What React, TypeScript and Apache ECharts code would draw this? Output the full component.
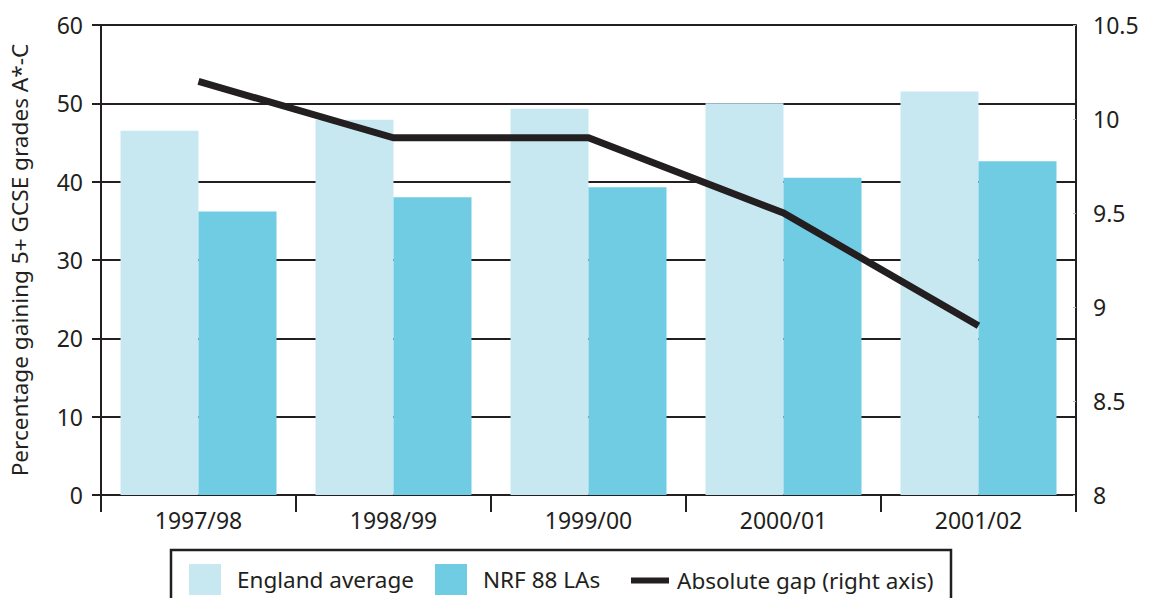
import React, { useEffect, useRef } from "react";
import * as echarts from "echarts";

const categories = ["1997/98", "1998/99", "1999/00", "2000/01", "2001/02"];
const englandAverage = [46.5, 47.9, 49.3, 50.0, 51.5];
const nrfLAs = [36.2, 38.0, 39.3, 40.5, 42.6];
const absoluteGap = [10.2, 9.9, 9.9, 9.5, 8.9];

const seriesNames = ["England average", "NRF 88 LAs", "Absolute gap (right axis)"];
const INK = "#231f20";
const LIGHT = "#c7e8f1";
const DARK = "#70cce3";
const FONT = "Noto Sans";

export default function App() {
  const ref = useRef<HTMLDivElement>(null);
  useEffect(() => {
    if (!ref.current) return;
    const chart = echarts.init(ref.current, undefined, { renderer: "svg" });
    const legendText = { color: INK, fontSize: 22.5, fontFamily: FONT };
    chart.setOption({
      animation: false,
      textStyle: { fontFamily: FONT, color: INK },
      grid: { left: 98, right: 76, top: 25, bottom: 103 },
      xAxis: {
        type: "category",
        data: categories,
        boundaryGap: true,
        axisLine: { lineStyle: { color: INK, width: 2 } },
        axisTick: { show: true, length: 17, lineStyle: { color: INK, width: 2 } },
        axisLabel: { color: INK, fontSize: 23, margin: 13, fontFamily: FONT },
      },
      yAxis: [
        {
          type: "value",
          min: 0,
          max: 60,
          interval: 10,
          name: "Percentage gaining 5+ GCSE grades A*-C",
          nameLocation: "middle",
          nameGap: 70,
          nameTextStyle: { color: INK, fontSize: 22.6, fontFamily: FONT },
          axisLine: { show: true, lineStyle: { color: INK, width: 2 } },
          axisTick: { show: true, length: 9, lineStyle: { color: INK, width: 2 } },
          axisLabel: { color: INK, fontSize: 23, margin: 18, fontFamily: FONT },
          splitLine: { show: true, lineStyle: { color: INK, width: 2 } },
        },
        {
          type: "value",
          min: 8,
          max: 10.5,
          interval: 0.5,
          position: "right",
          axisLine: { show: true, lineStyle: { color: INK, width: 2 } },
          axisTick: { show: true, inside: true, length: 3, lineStyle: { color: "#bbbbbb", width: 1 } },
          axisLabel: { color: INK, fontSize: 23, margin: 17, fontFamily: FONT },
          splitLine: { show: false },
        },
      ],
      legend: [
        {
          left: 189,
          top: 564,
          padding: 0,
          itemWidth: 32,
          itemHeight: 31,
          itemGap: 21,
          textStyle: { ...legendText, padding: [0, 0, 0, 11] },
          data: [
            { name: seriesNames[0], icon: "rect" },
            { name: seriesNames[1], icon: "rect" },
          ],
        },
        {
          left: 631,
          top: 569,
          padding: 0,
          itemWidth: 38,
          itemHeight: 6,
          textStyle: { ...legendText, padding: [0, 0, 0, 3] },
          data: [{ name: seriesNames[2], icon: "rect" }],
        },
      ],
      graphic: [
        {
          type: "rect",
          shape: { x: 171, y: 550, width: 780, height: 80 },
          style: { fill: "none", stroke: INK, lineWidth: 2.5 },
          silent: true,
        },
      ],
      series: [
        {
          name: seriesNames[0],
          type: "bar",
          data: englandAverage,
          barWidth: "40%",
          barGap: "0%",
          itemStyle: { color: LIGHT },
        },
        {
          name: seriesNames[1],
          type: "bar",
          data: nrfLAs,
          barWidth: "40%",
          barGap: "0%",
          itemStyle: { color: DARK },
        },
        {
          name: seriesNames[2],
          type: "line",
          yAxisIndex: 1,
          data: absoluteGap,
          symbol: "none",
          itemStyle: { color: INK },
          lineStyle: { color: INK, width: 7, cap: "butt", join: "miter" },
          z: 5,
        },
      ],
    });
    return () => chart.dispose();
  }, []);
  return (
    <div
      ref={ref}
      style={{ position: "fixed", left: 0, top: 0, width: 1152, height: 598, background: "#fff" }}
    />
  );
}
